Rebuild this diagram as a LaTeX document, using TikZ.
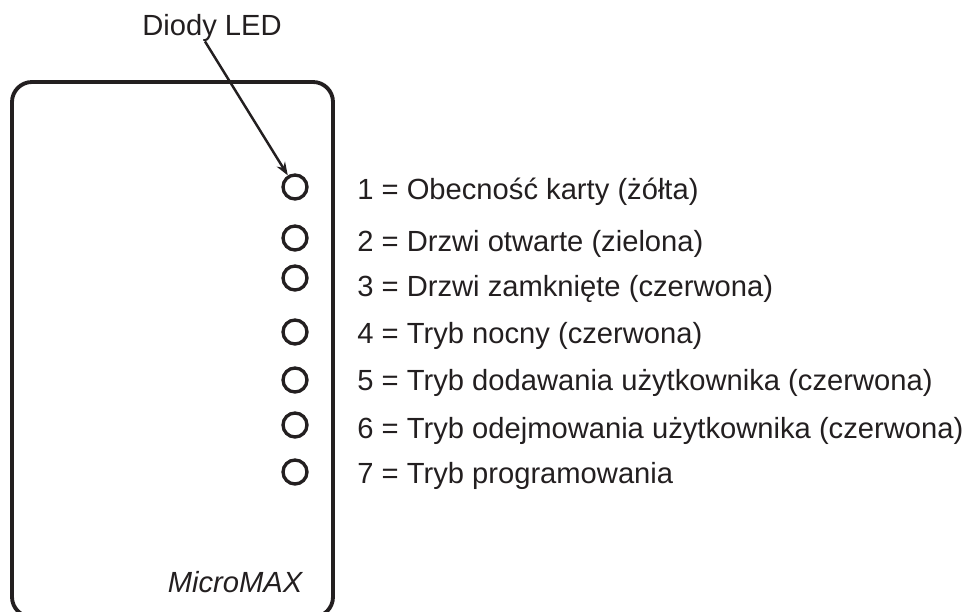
\documentclass[tikz,border=0pt]{standalone}
\usepackage{fontspec}
\setmainfont{Liberation Sans}
\usetikzlibrary{arrows.meta, positioning}
\definecolor{inkA}{HTML}{231F20}

\begin{document}
\begin{tikzpicture}[
  x=0.02cm, y=-0.02cm,
  led/.style={
    circle, draw=inkA, line width=1.9pt,
    minimum size=0.48cm, inner sep=0pt
  },
  desc/.style={
    anchor=base west, inner sep=0pt, text=inkA,
    font=\fontsize{16.6}{19.9}\selectfont
  },
  title/.style={
    anchor=base, inner sep=0pt, text=inkA,
    font=\fontsize{16.6}{19.9}\selectfont
  },
  housing/.style={draw=inkA, line width=2.2pt, rounded corners=0.4cm},
  arr/.style={-{Stealth[length=7.5pt, width=5.5pt]}, line width=1.4pt, inkA},
]
\useasboundingbox (0,0) rectangle (964,612);

%% === OBUDOWA ===
\draw[housing] (12,82) rectangle (333,617);
\node[title, font=\fontsize{16.6}{19.9}\selectfont\itshape] (model) at (235,592) {MicroMAX};

%% === DIODY ===
\node[led] (led1) at (295,187) {};
\node[led] (led2) at (295,238) {};
\node[led] (led3) at (295,278) {};
\node[led] (led4) at (295,332) {};
\node[led] (led5) at (295,380) {};
\node[led] (led6) at (295,425) {};
\node[led] (led7) at (295,472) {};

%% === OPISY ===
\node[desc] (desc1) at (357,199) {1 = Obecność karty (żółta)};
\node[desc] (desc2) at (357,251) {2 = Drzwi otwarte (zielona)};
\node[desc] (desc3) at (357,296) {3 = Drzwi zamknięte (czerwona)};
\node[desc] (desc4) at (357,343) {4 = Tryb nocny (czerwona)};
\node[desc] (desc5) at (357,390) {5 = Tryb dodawania użytkownika (czerwona)};
\node[desc] (desc6) at (357,438) {6 = Tryb odejmowania użytkownika (czerwona)};
\node[desc] (desc7) at (357,483) {7 = Tryb programowania};

%% === ODNOSNIK ===
\node[title] (diody) at (212,35) {Diody LED};
\draw[arr] ([xshift=-4pt]diody.south) -- (led1);

\end{tikzpicture}
\end{document}
